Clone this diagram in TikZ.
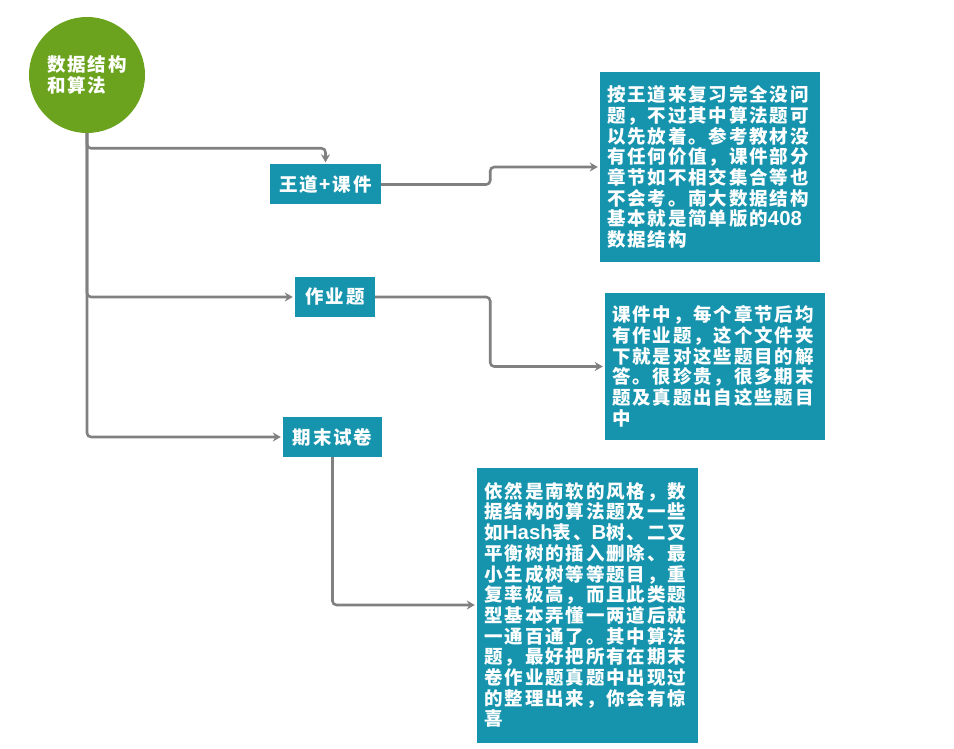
\documentclass[tikz,border=0pt]{standalone}
\usepackage{fontspec}
\setmainfont{Noto Sans CJK SC}[LetterSpace=10]
\newfontfamily\latinfont{Liberation Sans}[Scale=1.1]
\usetikzlibrary{arrows.meta}
\definecolor{boxblue}{RGB}{23,148,173}
\definecolor{rootgreen}{RGB}{107,163,31}
\definecolor{linegray}{RGB}{128,128,128}
\newcommand{\boxfont}{\bfseries\fontsize{18.5}{20.7}\selectfont}

\begin{document}
\begin{tikzpicture}[x=1pt, y=-1pt,
		topic/.style = {fill=boxblue, text=white, font=\boxfont, inner sep=0pt, minimum height=40pt},
		note/.style = {fill=boxblue, text=white, font=\boxfont, text width=206pt, align=left, inner sep=0pt},
		conn/.style = {draw=linegray, line width=2.6pt, rounded corners=4pt, shorten >=2pt, -{Stealth[length=8pt,width=9pt]}}]
		\useasboundingbox (0,0) rectangle (954,749);
		% root and topics
		\node[circle, fill=rootgreen, minimum size=116pt, inner sep=0pt, text=white, align=left, font=\boxfont] (root) at (87,75) {数据结构\\和算法};
		\node[topic, minimum width=111pt] (wd) at (325.5,184.5) {王道+课件};
		\node[topic, minimum width=80pt] (zy) at (335,297) {作业题};
		\node[topic, minimum width=99pt] (qm) at (332.5,437) {期末试卷};
		% notes
		\node[note, minimum width=220pt, minimum height=190pt] (n1) at (710,167) {按王道来复习完全没问\\题，不过其中算法题可\\以先放着。参考教材没\\有任何价值，课件部分\\章节如不相交集合等也\\不会考。南大数据结构\\基本就是简单版的{\latinfont 408}\\数据结构};
		\node[note, minimum width=220pt, minimum height=147pt] (n2) at (715,366.5) {课件中，每个章节后均\\有作业题，这个文件夹\\下就是对这些题目的解\\答。很珍贵，很多期末\\题及真题出自这些题目\\中};
		\node[note, minimum width=221pt, minimum height=275pt] (n3) at (587.5,605) {依然是南软的风格，数\\据结构的算法题及一些\\如{\latinfont Hash}表、{\latinfont B}树、二叉\\平衡树的插入删除、最\\小生成树等等题目，重\\复率极高，而且此类题\\型基本弄懂一两道后就\\一通百通了。其中算法\\题，最好把所有在期末\\卷作业题真题中出现过\\的整理出来，你会有惊\\喜};
		% connectors
		\draw[conn] (root.south) |- ([yshift=16pt]wd.north) -- (wd.north);
		\draw[conn] (root.south) |- (zy.west);
		\draw[conn] (root.south) |- (qm.west);
		\draw[conn] (wd.east) -- ++(109,0) |- (n1.west);
		\draw[conn] (zy.east) -- ++(115,0) |- (n2.west);
		\draw[conn] (qm.south) |- (n3.west);
	\end{tikzpicture}
\end{document}
